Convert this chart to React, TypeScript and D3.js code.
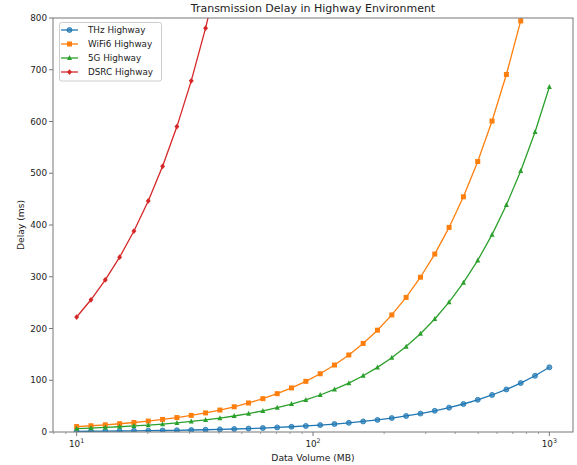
import * as d3 from "d3";

// data volume in MB (log spaced)
const volumes = [
  10, 11.498, 13.219, 15.199, 17.475, 20.092, 23.101, 26.561, 30.539, 35.112,
  40.37, 46.416, 53.367, 61.359, 70.548, 81.113, 93.26, 107.23, 123.28, 141.75,
  162.98, 187.38, 215.44, 247.71, 284.8, 327.46, 376.5, 432.88, 497.71, 572.24,
  657.93, 756.46, 869.75, 1000,
];

const thzDelay = [
  1.25, 1.44, 1.65, 1.9, 2.18, 2.51, 2.89, 3.32, 3.82, 4.39, 5.05, 5.8, 6.67,
  7.67, 8.82, 10.14, 11.66, 13.4, 15.41, 17.72, 20.37, 23.42, 26.93, 30.96,
  35.6, 40.93, 47.06, 54.11, 62.21, 71.53, 82.24, 94.56, 108.72, 125.0,
];

const wifi6Delay = [
  10.5, 12.07, 13.88, 15.96, 18.35, 21.1, 24.26, 27.89, 32.07, 36.87, 42.39,
  48.74, 56.04, 64.43, 74.08, 85.17, 97.92, 112.59, 129.44, 148.84, 171.13,
  196.75, 226.21, 260.1, 299.04, 343.83, 395.33, 454.52, 522.6, 600.85, 690.83,
  794.28, 913.24, 1050.0,
];

const fiveGDelay = [
  6.67, 7.67, 8.81, 10.13, 11.65, 13.39, 15.4, 17.71, 20.36, 23.41, 26.91,
  30.94, 35.58, 40.91, 47.03, 54.08, 62.17, 71.49, 82.19, 94.5, 108.65, 124.92,
  143.63, 165.14, 189.87, 218.31, 251.0, 288.59, 331.8, 381.49, 438.62, 504.31,
  579.83, 666.67,
];

const dsrcDelay = [
  222.2, 255.5, 293.8, 337.8, 388.3, 446.5, 513.4, 590.2, 678.6, 780.3, 897.1,
  1031.5, 1185.9, 1363.5, 1567.7, 1802.5, 2072.4, 2382.9, 2739.6, 3150.0,
  3621.8, 4164.0, 4787.6, 5504.6, 6328.9, 7276.9, 8366.7, 9619.6, 11060.2,
  12716.5, 14620.7, 16810.2, 19327.8, 22222.2,
];

const seriesNames = ["THz Highway", "WiFi6 Highway", "5G Highway", "DSRC Highway"];
const seriesValues = [thzDelay, wifi6Delay, fiveGDelay, dsrcDelay];
const colors = ["#1f77b4", "#ff7f0e", "#2ca02c", "#d62728"];
const markers = ["circle", "square", "triangle", "diamond"];

const yTicks = [0, 100, 200, 300, 400, 500, 600, 700, 800];
const xMajor = [10, 100, 1000];
const xMajorExp = ["1", "2", "3"];

const W = 577;
const H = 465;
const m = { left: 53, right: 573, top: 18, bottom: 432 };
const font = "DejaVu Sans, sans-serif";

function Marker({ kind, x, y, color }: { kind: string; x: number; y: number; color: string }) {
  const s = 2.5;
  if (kind === "circle") return <circle cx={x} cy={y} r={s} fill={color} fillOpacity={0.7} stroke={color} strokeWidth={0.8} />;
  if (kind === "square") return <rect x={x - s} y={y - s} width={2 * s} height={2 * s} fill={color} />;
  if (kind === "triangle")
    return <path d={`M${x},${y - s - 0.4}L${x + s},${y + s - 0.4}L${x - s},${y + s - 0.4}Z`} fill={color} />;
  const d = s * 1.15;
  return <path d={`M${x},${y - d}L${x + d * 0.85},${y}L${x},${y + d}L${x - d * 0.85},${y}Z`} fill={color} />;
}

export default function App() {
  const x = d3
    .scaleLog()
    .domain([Math.pow(10, 0.9), Math.pow(10, 3.1)])
    .range([m.left, m.right]);
  const y = d3.scaleLinear().domain([0, 800]).range([m.bottom, m.top]);

  const line = d3
    .line<number>()
    .x((_, i) => x(volumes[i]))
    .y((d) => y(d));

  const minor: number[] = [];
  for (const dec of [1, 10, 100]) {
    for (let k = 2; k <= 9; k++) {
      const v = dec * k;
      if (v >= x.domain()[0] && v <= x.domain()[1]) minor.push(v);
    }
  }

  const cx = (m.left + m.right) / 2;
  const cy = (m.top + m.bottom) / 2;

  return (
    <svg
      width={W}
      height={H}
      style={{ position: "absolute", left: 0, top: 0, background: "#fff" }}
      fontFamily={font}
    >
      <defs>
        <clipPath id="plot">
          <rect x={m.left} y={m.top} width={m.right - m.left} height={m.bottom - m.top} />
        </clipPath>
      </defs>

      <g clipPath="url(#plot)">
        {seriesValues.map((vals, si) => (
          <g key={si}>
            <path d={line(vals) || ""} fill="none" stroke={colors[si]} strokeWidth={1.3} />
            {vals.map((v, i) => (
              <Marker key={i} kind={markers[si]} x={x(volumes[i])} y={y(v)} color={colors[si]} />
            ))}
          </g>
        ))}
      </g>

      {/* frame */}
      <rect
        x={m.left}
        y={m.top}
        width={m.right - m.left}
        height={m.bottom - m.top}
        fill="none"
        stroke="#777"
        strokeWidth={1}
      />

      {/* y axis */}
      {yTicks.map((t) => (
        <g key={t}>
          <line x1={m.left - 4} x2={m.left} y1={y(t)} y2={y(t)} stroke="#777" />
          <text x={m.left - 6} y={y(t)} dy="0.35em" textAnchor="end" fontSize={8.8} fill="#222">
            {t}
          </text>
        </g>
      ))}

      {/* x axis */}
      {xMajor.map((t, i) => (
        <g key={t}>
          <line x1={x(t)} x2={x(t)} y1={m.bottom} y2={m.bottom + 4} stroke="#777" />
          <text x={x(t)} y={m.bottom + 15} textAnchor="middle" fontSize={8.8} fill="#222">
            10
            <tspan dy={-4} fontSize={6.3}>
              {xMajorExp[i]}
            </tspan>
          </text>
        </g>
      ))}
      {minor.map((t) => (
        <line key={t} x1={x(t)} x2={x(t)} y1={m.bottom} y2={m.bottom + 2} stroke="#888" strokeWidth={0.8} />
      ))}

      <text x={cx} y={461} textAnchor="middle" fontSize={9.2} fill="#222">
        Data Volume (MB)
      </text>
      <text
        transform={`translate(21,${cy}) rotate(-90)`}
        textAnchor="middle"
        dy="0.35em"
        fontSize={9.2}
        fill="#222"
      >
        Delay (ms)
      </text>
      <text x={cx} y={12} textAnchor="middle" fontSize={11} fill="#222">
        Transmission Delay in Highway Environment
      </text>

      {/* legend */}
      <rect x={59.5} y={22.5} width={102} height={58.5} rx={2} fill="#fff" fillOpacity={0.8} stroke="#ccc" />
      {seriesNames.map((name, i) => {
        const ly = 30 + i * 14;
        return (
          <g key={name}>
            <line x1={61} x2={78} y1={ly} y2={ly} stroke={colors[i]} strokeWidth={1.3} />
            <Marker kind={markers[i]} x={69.5} y={ly} color={colors[i]} />
            <text x={88} y={ly} dy="0.35em" fontSize={8.8} fill="#222">
              {name}
            </text>
          </g>
        );
      })}
    </svg>
  );
}
